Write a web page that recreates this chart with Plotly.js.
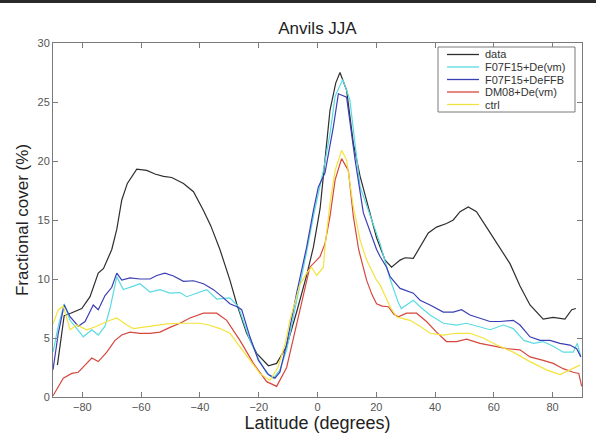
<!DOCTYPE html>
<html>
<head>
<meta charset="utf-8">
<script src="https://cdn.plot.ly/plotly-3.0.1.min.js"></script>
<style>
html,body{margin:0;padding:0;background:#fff;}
#topbar{position:absolute;left:0;top:0;width:596px;height:3px;background:#2a2a2a;z-index:5;}
#chart{width:596px;height:448px;}
</style>
</head>
<body>
<div id="topbar"></div>
<div id="chart"></div>
<script>
// ---- data ----
const seriesNames = ["data", "F07F15+De(vm)", "F07F15+DeFFB", "DM08+De(vm)", "ctrl"];
const seriesColors = ["#2e2e2e", "#5adbe2", "#3b3fb4", "#d5473d", "#f3e33c"];

const latData = [-88.5,-86.2,-84,-80.2,-77.4,-74.6,-72.8,-70,-68.3,-66.6,-64.7,-61.5,-58.1,-55.3,-52.4,-49.6,-45.6,-42.2,-38.8,-36.3,-33.2,-29.8,-27.5,-24.1,-20.7,-16.7,-13.9,-10.5,-7.1,-3.7,-1.4,0.9,2.55,4.25,6.2,7.65,9.9,12.2,14.5,17.3,20.1,23,25.2,28.1,29.8,32.6,34.9,37.7,40.5,43.9,46.2,48.5,51.3,54.1,57.5,61,65.5,68.9,72.3,76.8,80.2,84.2,86.5,87.9];
const valData = [2.7,6.9,7.1,7.5,8.5,10.5,10.9,12.5,14.2,16.7,18.1,19.3,19.2,18.9,18.7,18.6,18.1,17.4,15.8,14.5,12.5,9.9,7.9,5.4,3.7,2.65,2.85,4.3,7.2,10.3,12.7,16.0,20.1,24.3,26.6,27.5,26.0,21.5,18.7,16.1,13.5,11.6,11.0,11.6,11.8,11.75,12.7,13.9,14.4,14.7,15.0,15.7,16.1,15.7,14.4,13.0,11.3,9.4,7.8,6.6,6.75,6.6,7.4,7.5];

const latCyan = [-90,-88.2,-86.2,-84.2,-81.9,-79.7,-76.8,-74.6,-72.3,-70.6,-68.3,-66.1,-62.6,-60.4,-57,-53.6,-50.2,-46.8,-44.5,-41.1,-37.7,-34.3,-29.8,-26.9,-23,-20,-17.3,-15,-12.8,-10.5,-7.1,-3.7,-1.4,0.85,2,4.25,6,8.6,11,14.5,17.9,21.3,24.7,27.5,28.5,30.3,32.6,34.9,38.3,42.8,47.3,50.7,54.1,58.7,63.2,66.6,70.2,73.6,76.8,80.2,83.6,87,88.4,89.6];
const valCyan = [3.8,6.0,7.9,6.5,5.8,5.1,5.7,5.25,6.0,7.5,10.2,9.1,9.4,9.6,8.9,9.1,8.8,8.85,8.5,8.8,9.1,8.3,8.4,7.65,4.8,3.2,2.0,1.6,2.3,4.0,8.0,12.3,15.3,17.8,19.2,22.3,25.5,26.9,25.2,17.8,15.3,13.0,10.0,8.0,7.5,7.8,8.2,7.65,6.95,6.25,6.1,6.25,6.0,5.7,6.1,5.8,4.8,4.55,4.7,4.3,3.8,3.8,4.55,3.4];

const latBlue = [-90,-88.2,-86.2,-84.2,-81.4,-79.1,-76.3,-74.6,-72.3,-70,-68.3,-66.6,-63.8,-60.4,-57,-54.7,-51.9,-49,-45.6,-42.2,-38.8,-35.4,-32,-29.8,-27,-25.8,-23,-20.1,-16.7,-14.5,-12.8,-10.5,-7.1,-3.7,-1.4,0.3,2.55,5.4,7.1,9.9,12.8,15.6,20.1,21.3,23.5,24.7,26.4,28.1,32.6,34.9,38.3,42.8,46.2,49,51.9,55.3,58.7,62.1,66.6,68.9,72.3,75.7,79.1,82.5,85.9,88.2,89.6];
const valBlue = [2.3,5.4,7.8,6.8,6.0,6.4,7.8,7.4,8.6,9.3,10.5,9.9,10.1,10.0,10.0,10.3,10.5,10.25,9.8,9.85,9.6,9.1,8.4,7.9,7.6,7.4,5.1,3.1,1.9,1.6,2.1,4.5,8.8,12.7,15.8,17.8,19.0,22.9,25.7,25.4,20.1,15.6,12.5,11.9,11.0,10.2,9.7,9.2,8.8,8.2,7.8,7.2,7.2,7.4,6.95,6.7,6.4,6.4,6.5,6.1,5.1,4.8,4.8,4.55,4.4,4.1,3.4];

const latRed = [-90,-88.2,-86.5,-83.6,-81.4,-79.1,-76.8,-74.6,-71.7,-68.9,-66.6,-63.8,-60.4,-57,-53.6,-50.2,-46.8,-43.4,-38.8,-34.3,-30.9,-26.4,-21.8,-17.3,-13.9,-10.5,-7.1,-6,-4,-2.6,0.85,2.55,4.25,6,8.2,10.5,12.2,14,16.7,18.5,20.1,22,24.1,26,27.5,30.3,33.7,37.1,40.5,43.9,47.3,50.7,55.3,59.8,64.4,68.9,72.3,76.8,80.2,83.6,87,88.9,89.9];
const valRed = [0.1,0.9,1.6,2.0,2.1,2.7,3.3,3.0,3.8,4.8,5.25,5.5,5.4,5.4,5.5,5.9,6.25,6.7,7.1,7.1,6.5,4.8,2.85,1.3,0.9,2.5,6.2,7.4,9.5,11.0,11.9,13.0,15.3,18.4,20.2,19.2,15.3,12.5,9.9,8.7,7.9,7.7,7.65,7.0,6.8,7.1,7.1,6.4,5.5,4.7,4.7,4.9,4.55,4.3,4.1,4.0,3.4,3.1,2.85,2.4,2.1,2.0,0.9];

const latYellow = [-90,-88.2,-86.5,-84.2,-81.9,-78.5,-75.1,-71.7,-68.3,-64.9,-62.6,-57,-51.3,-45.6,-40,-37,-33.2,-29.8,-28.6,-24.1,-19.6,-16.2,-13.5,-11,-9.4,-6,-3.7,-2,-0.3,2,2.55,4.25,6,8.2,9.9,12.2,14.5,16.7,20.1,21.3,23.5,24.7,26.9,28.1,31.5,34.9,38.3,42.8,47.3,51.9,56.4,61,66.6,72.3,77.9,82.5,85.9,89.3];
const valYellow = [6.2,7.4,7.7,5.7,6.1,5.7,6.0,6.4,6.7,6.1,5.8,6.0,6.2,6.25,6.25,6.1,5.8,5.4,5.0,3.4,2.0,1.4,2.5,4.5,6.5,9.5,10.5,11.0,10.3,11.0,12.7,16.4,19.2,20.9,20.1,16.1,13.3,11.6,9.9,9.5,8.2,7.65,6.8,6.7,6.5,6.0,5.4,5.25,5.4,5.4,5.0,4.4,3.8,3.0,2.3,1.9,2.3,2.7];

const xTicks = [-80,-60,-40,-20,0,20,40,60,80];
const yTicks = [0,5,10,15,20,25,30];

const xs = [latData, latCyan, latBlue, latRed, latYellow];
const ys = [valData, valCyan, valBlue, valRed, valYellow];

// ---- layout geometry (pixels) ----
const W = 596, H = 448, mL = 53, mR = 14, mT = 43, mB = 51;
const pw = W - mL - mR, ph = H - mT - mB;
const px2x = p => (p - mL) / pw;
const py2y = p => (H - mB - p) / ph;

const traces = seriesNames.map((n, i) => ({
  x: xs[i], y: ys[i], name: n, type: 'scatter', mode: 'lines',
  line: {color: seriesColors[i], width: 1.2, shape: 'linear'},
  showlegend: false, hoverinfo: 'skip'
}));

// custom legend (MATLAB-style compact box)
const shapes = [{
  type: 'rect', xref: 'paper', yref: 'paper',
  x0: px2x(438), x1: px2x(575), y0: py2y(112), y1: py2y(47),
  line: {color: '#7a7a7a', width: 1}, fillcolor: '#ffffff', layer: 'above'
}];
const annotations = [];
const rowY = [54.5, 67, 79.5, 92, 104.5];
seriesNames.forEach((n, i) => {
  shapes.push({type: 'line', xref: 'paper', yref: 'paper',
    x0: px2x(447), x1: px2x(479), y0: py2y(rowY[i]), y1: py2y(rowY[i]),
    line: {color: seriesColors[i], width: 1.3}, layer: 'above'});
  annotations.push({xref: 'paper', yref: 'paper', x: px2x(483), y: py2y(rowY[i]),
    xanchor: 'left', yanchor: 'middle', showarrow: false, text: n,
    font: {family: 'Liberation Sans, Arial, sans-serif', size: 11, color: '#333'}});
});

const axisCommon = {
  showgrid: false, zeroline: false, showline: true, linecolor: '#7a7a7a', linewidth: 1,
  mirror: 'ticks', ticks: 'inside', ticklen: 5, tickcolor: '#7a7a7a', tickwidth: 1,
  tickfont: {family: 'Liberation Sans, Arial, sans-serif', size: 11, color: '#555'}
};

const layout = {
  width: W, height: H,
  margin: {l: mL, r: mR, t: mT, b: mB, pad: 0},
  paper_bgcolor: '#fff', plot_bgcolor: '#fff',
  title: {text: 'Anvils JJA', xref: 'paper', x: 0.5, xanchor: 'center', y: 1 - 28/H, yanchor: 'middle',
    font: {family: 'Liberation Sans, Arial, sans-serif', size: 17, color: '#222'}},
  xaxis: Object.assign({}, axisCommon, {
    range: [-90, 90], tickvals: xTicks, ticktext: xTicks.map(v => v < 0 ? '\u2212' + Math.abs(v) : String(v)),
    title: {text: 'Latitude (degrees)', standoff: 4,
      font: {family: 'Liberation Sans, Arial, sans-serif', size: 18, color: '#222'}}
  }),
  yaxis: Object.assign({}, axisCommon, {
    range: [0, 30], tickvals: yTicks,
    title: {text: 'Fractional cover (%)', standoff: 4,
      font: {family: 'Liberation Sans, Arial, sans-serif', size: 17, color: '#222'}}
  }),
  shapes: shapes, annotations: annotations
};

Plotly.newPlot('chart', traces, layout, {displayModeBar: false, staticPlot: true});
</script>
</body>
</html>
